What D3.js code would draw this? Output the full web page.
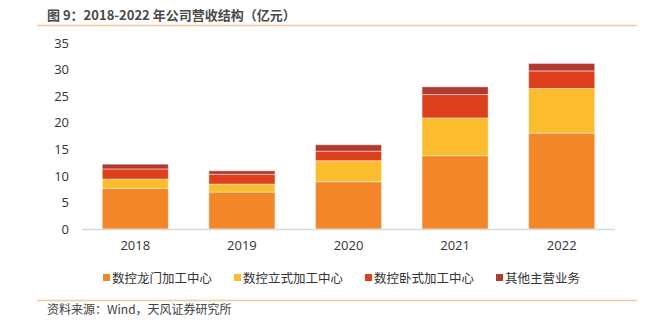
<!DOCTYPE html>
<html>
<head>
<meta charset="utf-8">
<script src="https://cdn.jsdelivr.net/npm/d3@7"></script>
<style>
  body { margin: 0; background: #fff; }
  svg { display: block; font-family: "Microsoft YaHei", "Noto Sans CJK SC", sans-serif; }
</style>
</head>
<body>
<svg id="chart" width="655" height="326"></svg>
<script>
// data (亿元)
var years = ['2018', '2019', '2020', '2021', '2022'];
var series = ['数控龙门加工中心', '数控立式加工中心', '数控卧式加工中心', '其他主营业务'];
var longmen = [7.65, 6.95, 8.9, 13.8, 18.05];
var lishi = [1.75, 1.5, 3.95, 7.1, 8.4];
var woshi = [1.9, 1.85, 1.8, 4.4, 3.3];
var other = [0.9, 0.65, 1.2, 1.45, 1.4];
var yTicks = [0, 5, 10, 15, 20, 25, 30, 35];
var colors = ['#F4862A', '#FBBC2D', '#DE3F1C', '#B03A2E'];

var rows = years.map(function(y, i){
  return { year: y, s0: longmen[i], s1: lishi[i], s2: woshi[i], s3: other[i] };
});

var svg = d3.select('#chart');

// title + rules
svg.append('text')
  .attr('x', 47).attr('y', 20)
  .attr('font-size', 13).attr('font-weight', 'bold')
  .attr('fill', '#4a4a4a')
  .text('图 9：2018-2022 年公司营收结构（亿元）');

svg.append('line')
  .attr('x1', 37).attr('x2', 637).attr('y1', 25.5).attr('y2', 25.5)
  .attr('stroke', '#F8C59A').attr('stroke-width', 1.5);

svg.append('line')
  .attr('x1', 37).attr('x2', 637).attr('y1', 300.5).attr('y2', 300.5)
  .attr('stroke', '#F8C59A').attr('stroke-width', 1.5);

svg.append('text')
  .attr('x', 47).attr('y', 314)
  .attr('font-size', 12).attr('fill', '#404040')
  .text('资料来源：Wind，天风证券研究所');

var x = d3.scaleBand().domain(years).range([82, 615]).paddingInner(0.38).paddingOuter(0.19);
var y = d3.scaleLinear().domain([0, 35]).range([229, 43]);

// y axis labels
var yAxis = svg.append('g')
  .attr('transform', 'translate(69,0)')
  .call(d3.axisLeft(y).tickValues(yTicks).tickSize(0).tickPadding(0));
yAxis.select('.domain').remove();
yAxis.selectAll('text').attr('font-size', 13).attr('fill', '#333')
  .attr('font-family', '"Open Sans", "Noto Sans", sans-serif');

// stacked bars
var stack = d3.stack().keys(['s0', 's1', 's2', 's3']);
var layers = stack(rows);

svg.append('g').selectAll('g')
  .data(layers)
  .join('g')
    .attr('fill', function(d, i){ return colors[i]; })
  .selectAll('rect')
  .data(function(d){ return d; })
  .join('rect')
    .attr('x', function(d){ return x(d.data.year); })
    .attr('width', x.bandwidth())
    .attr('y', function(d){ return y(d[1]); })
    .attr('height', function(d){ return y(d[0]) - y(d[1]); })
    .attr('stroke', 'rgba(255,255,255,0.45)')
    .attr('stroke-width', 1);

// x axis
var xAxis = svg.append('g')
  .attr('transform', 'translate(0,229.5)')
  .call(d3.axisBottom(x).tickSize(0).tickPadding(11));
xAxis.select('.domain').attr('stroke', '#D9D9D9').attr('stroke-width', 1.5)
  .attr('d', 'M82,0H615');
xAxis.selectAll('text').attr('font-size', 13).attr('fill', '#333')
  .attr('font-family', '"Open Sans", "Noto Sans", sans-serif');

// legend
var legendX = [103, 234, 365, 496];
var legend = svg.append('g').selectAll('g')
  .data(series)
  .join('g')
    .attr('transform', function(d, i){ return 'translate(' + legendX[i] + ',278)'; });
legend.append('rect')
  .attr('x', 0).attr('y', -4).attr('width', 7).attr('height', 7)
  .attr('fill', function(d, i){ return colors[i]; });
legend.append('text')
  .attr('x', 9).attr('y', 4.5)
  .attr('font-size', 12.5).attr('fill', '#333')
  .text(function(d){ return d; });
</script>
</body>
</html>
